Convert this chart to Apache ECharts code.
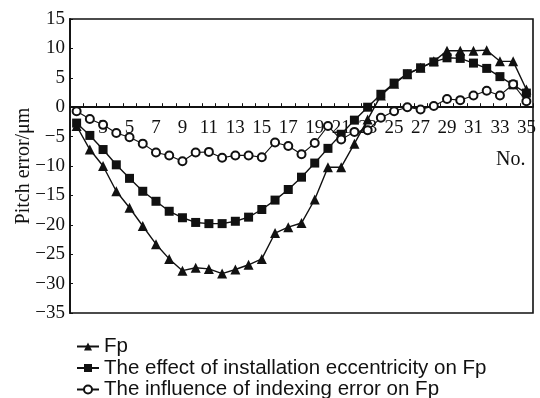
<!DOCTYPE html>
<html>
<head>
<meta charset="utf-8">
<script src="https://cdn.jsdelivr.net/npm/echarts@6/dist/echarts.min.js"></script>
<style>html,body{margin:0;padding:0;background:#fff}#c{width:540px;height:398px}</style>
</head>
<body>
<div id="c"></div>
<script>
const toothNumbers = ['1','2','3','4','5','6','7','8','9','10','11','12','13','14','15','16','17','18','19','20','21','22','23','24','25','26','27','28','29','30','31','32','33','34','35'];
const fpValues = [-3.2, -7.2, -10.0, -14.3, -17.1, -20.2, -23.3, -25.8, -27.8, -27.3, -27.5, -28.3, -27.6, -26.8, -25.8, -21.4, -20.4, -19.7, -15.7, -10.2, -10.2, -6.2, -2.1, 2.0, 4.0, 5.6, 6.7, 7.8, 9.6, 9.6, 9.6, 9.7, 7.8, 7.8, 3.0];
const eccentricityValues = [-2.7, -4.8, -7.2, -9.8, -12.1, -14.3, -16.0, -17.7, -18.8, -19.6, -19.8, -19.8, -19.4, -18.7, -17.4, -15.8, -14.0, -11.9, -9.5, -7.0, -4.6, -2.2, 0.0, 2.2, 4.1, 5.7, 6.7, 7.7, 8.4, 8.3, 7.5, 6.6, 5.2, 3.8, 2.4];
const indexingValues = [-0.7, -2.0, -3.0, -4.4, -5.1, -6.2, -7.7, -8.2, -9.2, -7.7, -7.6, -8.6, -8.2, -8.2, -8.5, -6.0, -6.6, -8.0, -6.1, -3.2, -5.5, -4.2, -3.9, -1.8, -0.7, 0.0, -0.4, 0.2, 1.4, 1.2, 2.0, 2.8, 2.0, 3.9, 1.0];
const seriesNames = ['Fp', 'The effect of installation eccentricity on Fp', 'The influence of indexing error on Fp'];

const ink = '#111';
const serif = 'Liberation Serif';
const yMin = -35, yMax = 15;
const gridTop = 19, gridBottom = 85, H = 398;
const plotH = H - gridTop - gridBottom;
const zeroShift = plotH * (0 - yMin) / (yMax - yMin);

const chart = echarts.init(document.getElementById('c'));
chart.setOption({
  animation: false,
  backgroundColor: '#fff',
  grid: { left: 70, top: gridTop, right: 7, bottom: gridBottom, show: true, borderColor: ink, borderWidth: 1.6, backgroundColor: 'transparent' },
  xAxis: {
    type: 'category',
    data: toothNumbers,
    boundaryGap: true,
    position: 'bottom',
    offset: -zeroShift,
    axisLine: { onZero: false, lineStyle: { color: ink, width: 1.8 } },
    axisTick: { show: true, inside: true, length: 4, interval: 0, lineStyle: { color: ink, width: 1 } },
    axisLabel: {
      interval: function (i, v) { const n = +v; return n >= 3 && n % 2 === 1; },
      color: ink, fontFamily: serif, fontSize: 19, margin: 11
    },
    splitLine: { show: false }
  },
  yAxis: {
    type: 'value',
    min: yMin, max: yMax, interval: 5,
    name: 'Pitch error/μm',
    nameLocation: 'middle',
    nameGap: 36,
    nameMoveOverlap: false,
    nameTextStyle: { color: ink, fontFamily: serif, fontSize: 20 },
    axisLine: { show: true, lineStyle: { color: ink, width: 1.8 } },
    axisTick: { show: true, inside: true, length: 3, lineStyle: { color: ink } },
    axisLabel: { color: ink, fontFamily: serif, fontSize: 19, margin: 5,
      formatter: v => String(v).replace('-', '\u2212') },
    splitLine: { show: false }
  },
  legend: {
    orient: 'vertical',
    left: 76, top: 336, height: 80,
    padding: 0,
    itemWidth: 22, itemHeight: 10, itemGap: 0.5,
    textStyle: { color: ink, fontFamily: 'Liberation Sans', fontSize: 20.5, lineHeight: 21 },
    data: seriesNames
  },
  graphic: [{ type: 'text', left: 496, top: 150, style: { text: 'No.', fill: ink, font: '20px "Liberation Serif"' } }],
  series: [
    { name: seriesNames[0], type: 'line', data: fpValues, symbol: 'triangle', symbolSize: 10, showAllSymbol: true,
      lineStyle: { color: ink, width: 1.4 }, itemStyle: { color: ink } },
    { name: seriesNames[1], type: 'line', data: eccentricityValues, symbol: 'rect', symbolSize: 9, showAllSymbol: true,
      lineStyle: { color: ink, width: 1.4 }, itemStyle: { color: ink } },
    { name: seriesNames[2], type: 'line', data: indexingValues, symbol: 'emptyCircle', symbolSize: 8, showAllSymbol: true,
      lineStyle: { color: ink, width: 1.1 }, itemStyle: { color: ink, borderWidth: 1.3 } }
  ]
});
</script>
</body>
</html>
